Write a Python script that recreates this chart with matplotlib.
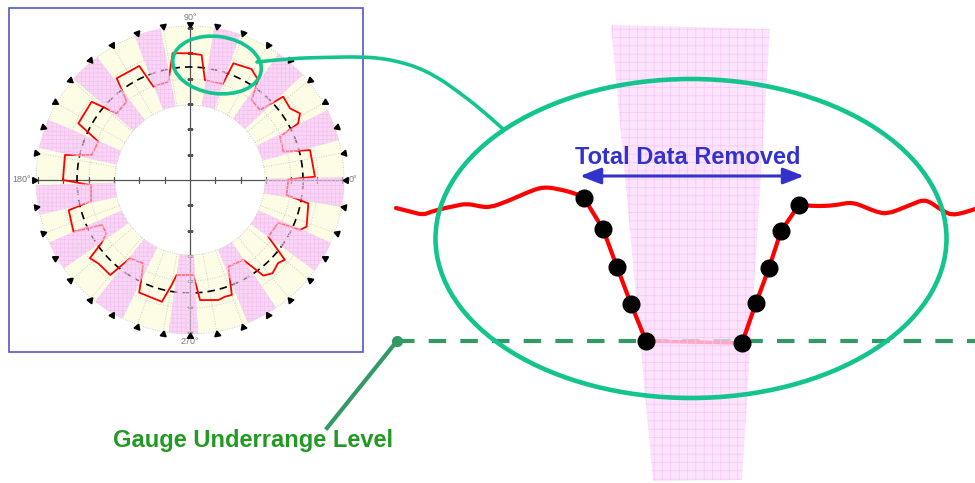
import numpy as np
import matplotlib
matplotlib.use('Agg')
import matplotlib.pyplot as plt
from matplotlib.patches import Ellipse, Rectangle, Polygon, PathPatch
from matplotlib.path import Path
from matplotlib.colors import to_rgba

plt.rcParams['font.family'] = ['Liberation Sans', 'DejaVu Sans']
plt.rcParams['hatch.linewidth'] = 0.5

# ---------------- polar overview data (radius in px of the overview) ----------------
profile_deg = [-180, -177, -168, -166, -156, -153, -147.5, -144.5, -142, -137.7, -130,
               -127.5, -119.2, -114.3, -103, -100, -98, -88, -85.2, -76.7, -73.3, -70,
               -66.1, -56.3, -52.5, -48.5, -43.3, -40.1, -35.9, -25.8, -24.4, -21.8,
               -11.2, -8.8, 0.3, 1.5, 14, 16.9, 25.7, 27.6, 31.2, 35.6, 41.8, 45, 52.4,
               55.7, 61, 69.6, 71.2, 81.5, 84.7, 90, 97.8, 102.4, 111.4, 112.8, 114,
               125.8, 128.9, 137.7, 141.5, 153.1, 157.3, 165.7, 168.7, 180]
profile_r = [127, 99, 101, 125, 127.5, 99, 99, 109, 127, 124, 124,
             98.7, 95.5, 123.5, 125, 107, 96, 95, 120.5, 123.3, 121.8, 122.3,
             94.8, 96, 120.5, 124.5, 121, 124, 96.7, 98, 120.8, 125.6,
             120.6, 97.8, 98.3, 125, 123.7, 97.5, 100, 122, 128.6, 123, 125, 99, 101,
             121, 126.8, 124.5, 101.5, 101, 125.6, 126.7, 128, 100.7, 100.3, 112, 124.8,
             125.4, 100.8, 99.1, 125.7, 125.2, 99.4, 101.5, 127.5, 127]
removed_start = [-178, -156, -128, -98, -68, -36, -10, 15, 43, 71, 101, 127, 157]
removed_end = [-167, -145, -116, -87, -56, -24, 1, 27, 55, 81, 111, 139, 168]
nominal_r = 113
ring_inner, ring_outer = 75, 154
axis_ticks_r = [25.3, 50.7, 76, 101.3, 126.7, 152]
angle_label_deg = [0, 90, 180, 270]
angle_label_txt = ['0°', '90°', '180°', '270°']
angle_label_r = [163, 163, 168, 162]

# ---------------- detail view data (figure pixels) ----------------
wave_left_x = [396, 410, 423, 430, 443, 455, 467, 480, 490, 507, 527, 543, 560, 577]
wave_left_y = [208, 211.5, 215, 212, 208.5, 206, 203.5, 206.5, 207.5, 201.5, 192.5, 186.7, 189.3, 194]
removed_x = [584, 603, 617, 631, 646, 742, 756, 769, 781, 799]
removed_y = [198, 229, 267, 304, 341, 343, 303, 268, 231, 205]
wave_right_x = [813, 825, 837, 852, 867, 877, 887, 903, 915, 923, 930, 937, 945, 952, 963, 975]
wave_right_y = [206, 206, 205, 202, 208, 212, 214, 208, 203, 200, 202, 207, 212, 215, 213, 209]
band_x = [611, 770, 742, 653]
band_y = [25, 29, 480, 481]
gauge_level_y = 341
gauge_anchor_x = 397
gauge_label_xy = (253, 440)
conn_x = [257, 290, 330, 360, 382, 400, 418, 437, 456, 480, 503]
conn_y = [62, 58.3, 57.3, 56.8, 58.3, 62, 67.5, 77, 90, 108.5, 129]

RED = '#ff0000'
TEAL = '#14c48f'
GREEN = '#339966'
BLUE = '#3333cc'


def smooth_path(xs, ys):
    """Quadratic-Bezier path through the midpoints, using the read points as controls."""
    pts = np.column_stack([xs, ys])
    verts = [pts[0]]
    codes = [Path.MOVETO]
    for i in range(1, len(pts) - 1):
        mid = (pts[i] + pts[i + 1]) / 2
        verts += [pts[i], mid]
        codes += [Path.CURVE3, Path.CURVE3]
    verts.append(pts[-1])
    codes.append(Path.LINETO)
    return Path(verts, codes)


fig = plt.figure(figsize=(9.75, 4.83), dpi=100)
fig.patch.set_facecolor('white')

# ---------------- polar overview ----------------
cx, cy, R = 190, 180, 165
axp = fig.add_axes([(cx - R) / 975, (483 - cy - R) / 483, 2 * R / 975, 2 * R / 483],
                   projection='polar')
axp.set_ylim(0, R)
axp.set_axis_off()
rad = np.deg2rad

axp.bar(0, ring_outer - ring_inner, width=2 * np.pi, bottom=ring_inner,
        color='#fdfde6', edgecolor='none', zorder=1)
for s, e in zip(removed_start, removed_end):
    axp.bar(rad((s + e) / 2), ring_outer - ring_inner, width=rad(e - s), bottom=ring_inner,
            color='#fad6f6', edgecolor='none', zorder=1.5)

# dotted grid
tt = np.linspace(0, 2 * np.pi, 721)
for a in range(0, 360, 10):
    axp.plot([rad(a), rad(a)], [ring_inner, ring_outer], color='#cfcfcf', lw=0.7,
             ls=(0, (1, 1.5)), zorder=2)
for rr in [ring_inner, 101, 128, ring_outer]:
    axp.plot(tt, np.full_like(tt, rr), color='#cfcfcf', lw=0.7, ls=(0, (1, 1.5)), zorder=2)

# crosshair with ticks
for a in [0, 90, 180, 270]:
    axp.plot([rad(a), rad(a)], [0, 155], color='#555555', lw=0.9, zorder=3)
    mk = '|' if a in (0, 180) else '_'
    axp.plot(np.full(len(axis_ticks_r), rad(a)), axis_ticks_r, ls='none', marker=mk,
             ms=5, mew=0.9, color='#555555', zorder=3)

axp.plot(tt, np.full_like(tt, nominal_r), color='black', lw=1.2, ls=(0, (4.5, 3)), zorder=4)
axp.plot(rad(np.array(profile_deg)), profile_r, color=RED, lw=1.3, zorder=5)

# translucent hatched overlay for removed sectors
for s, e in zip(removed_start, removed_end):
    axp.bar(rad((s + e) / 2), ring_outer - ring_inner, width=rad(e - s), bottom=ring_inner,
            facecolor=to_rgba('#fad6f6', 0.55), edgecolor='#f4c2f0', hatch='++++',
            linewidth=0, zorder=6)

for a in range(0, 360, 10):
    axp.plot(rad(a), 156, marker=(3, 0, a + 90), ms=5, color='black', ls='none',
             zorder=7, clip_on=False)

for d, t, r in zip(angle_label_deg, angle_label_txt, angle_label_r):
    axp.text(rad(d), r, t, ha='center', va='center', fontsize=6.5, color='#777777',
             clip_on=False)

# ---------------- overlay / detail ----------------
ax = fig.add_axes([0, 0, 1, 1])
ax.set_xlim(0, 975)
ax.set_ylim(483, 0)
ax.set_axis_off()
ax.set_zorder(5)

ax.add_patch(Rectangle((9, 8), 354, 344, fill=False, edgecolor='#5555cc', lw=1.2))

# gauge underrange level
ax.plot([gauge_anchor_x, 975], [gauge_level_y, gauge_level_y], color=GREEN, lw=3,
        dashes=(4.2, 3.4), zorder=2)
ax.plot(removed_x[4:6], removed_y[4:6], color='#ff2244', lw=2.6, zorder=2.5)

# removed band
ax.add_patch(Polygon(list(zip(band_x, band_y)), closed=True,
                     facecolor=to_rgba('#fcdcfb', 0.72), edgecolor='#f8c6f5',
                     hatch='++', linewidth=0, zorder=3))

left_line = smooth_path(wave_left_x + [removed_x[0]], wave_left_y + [removed_y[0]])
right_line = smooth_path([removed_x[-1]] + wave_right_x, [removed_y[-1]] + wave_right_y)
for p in (left_line, right_line):
    ax.add_patch(PathPatch(p, fill=False, edgecolor=RED, lw=3, capstyle='round',
                           joinstyle='round', zorder=4))
ax.plot(removed_x[:5], removed_y[:5], color=RED, lw=3, solid_joinstyle='round', zorder=4)
ax.plot(removed_x[5:], removed_y[5:], color=RED, lw=3, solid_joinstyle='round', zorder=4)
ax.plot(removed_x, removed_y, 'o', ms=12, color='black', zorder=6)

ax.plot([gauge_anchor_x, gauge_label_xy[0] + 74], [gauge_level_y, gauge_label_xy[1] - 12],
        color=GREEN, lw=3, zorder=6)
ax.plot(gauge_anchor_x, gauge_level_y, 'o', ms=7, color=GREEN, zorder=6)
ax.text(gauge_label_xy[0], gauge_label_xy[1], 'Gauge Underrange Level', ha='center',
        va='center', fontsize=17, fontweight='bold', color='#229922', zorder=8)

# ellipses and connector
ax.add_patch(Ellipse((691, 238.5), 511, 319, fill=False, edgecolor=TEAL, lw=3.3, zorder=7))
ax.add_patch(Ellipse((217, 65), 89, 57, angle=8, fill=False, edgecolor=TEAL, lw=2.6, zorder=7))
ax.add_patch(PathPatch(smooth_path(conn_x, conn_y), fill=False, edgecolor=TEAL, lw=2.6,
                       capstyle='round', zorder=7))

# total data removed
ax.annotate('', xy=(804, 176), xytext=(580, 176),
            arrowprops=dict(arrowstyle='<|-|>,head_length=0.9,head_width=0.35',
                            color=BLUE, lw=2.2, mutation_scale=14, shrinkA=0, shrinkB=0),
            zorder=8)
ax.text(688, 158, 'Total Data Removed', ha='center', va='center', fontsize=17,
        fontweight='bold', color=BLUE, zorder=8)

fig.savefig('out.png', dpi=100)
